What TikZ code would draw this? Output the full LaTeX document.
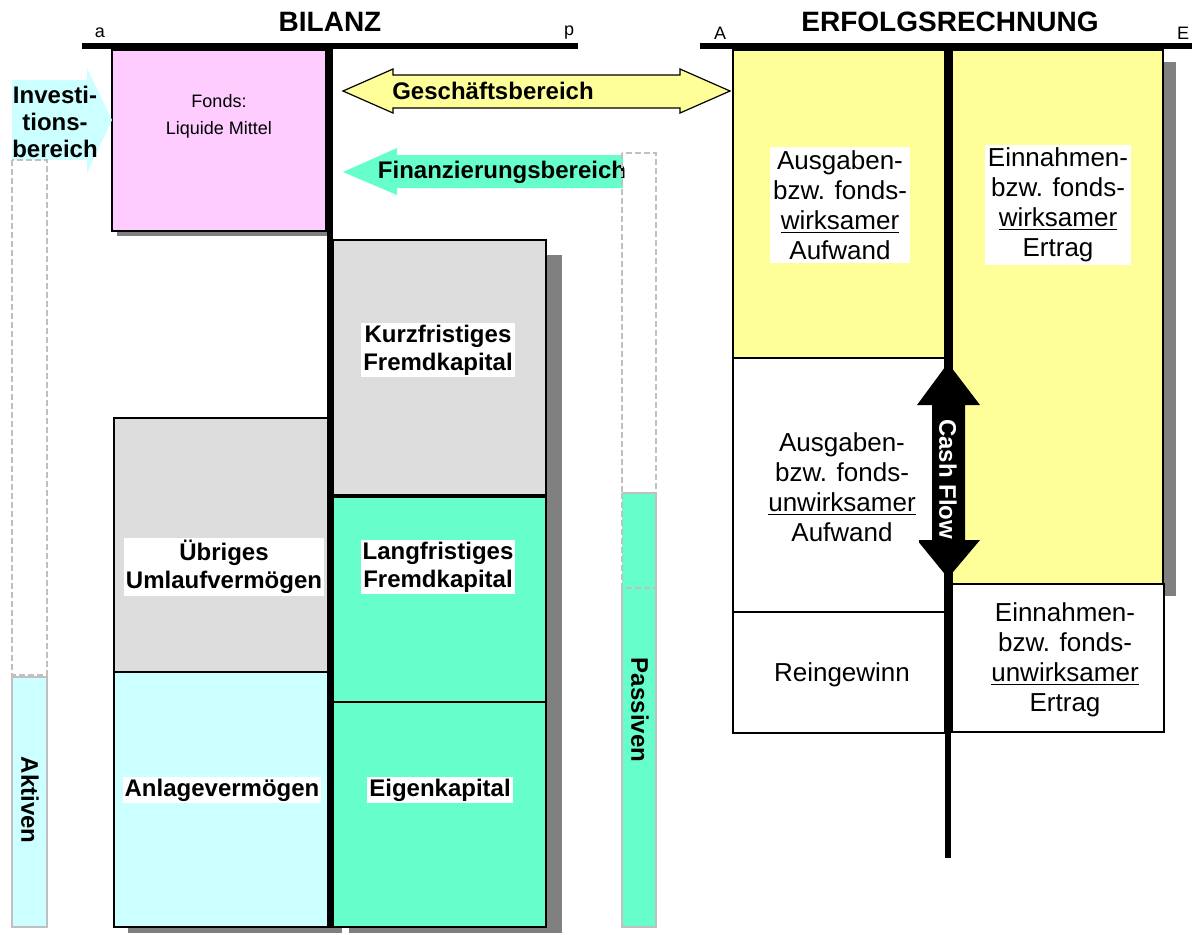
\documentclass[tikz,border=0pt]{standalone}
\usepackage{fontspec}
\setmainfont{Liberation Sans}
\usetikzlibrary{calc}
\definecolor{fondsrosa}{HTML}{FFCCFF}
\definecolor{grau}{HTML}{DDDDDD}
\definecolor{tuerkis}{HTML}{66FFCC}
\definecolor{hellblau}{HTML}{CCFFFF}
\definecolor{gelb}{HTML}{FFFF99}
\definecolor{schattengrau}{HTML}{808080}
\definecolor{randgrau}{HTML}{C0C0C0}
\tikzstyle{konto}=[draw=black,line width=0.8pt]
\tikzstyle{balken}=[line width=3.3pt]
\tikzstyle{leer}=[draw=randgrau,line width=1pt,dash pattern=on 3pt off 1.5pt]
\tikzstyle{saeule}=[draw=randgrau,line width=1pt]
\tikzstyle{etikett}=[fill=white,inner sep=1pt,align=center,font=\fontsize{12}{14}\selectfont\bfseries]
\tikzstyle{erfolg}=[fill=white,inner sep=1.5pt,align=center,font=\fontsize{13}{15}\selectfont]
\tikzstyle{titel}=[font=\fontsize{14}{16}\selectfont\bfseries]
\tikzstyle{ecke}=[font=\fontsize{9}{10}\selectfont]
\def\kasten[#1](#2)(#3)% Syntax: [fill] (upper left) (lower right), pixel units
    { \draw[konto,fill=#1] (#2) rectangle (#3); }
\def\schatten(#1)(#2)% Syntax: (upper left) (lower right)
    { \fill[schattengrau] (#1) rectangle (#2); }

\begin{document}
\begin{tikzpicture}[x=0.5pt,y=-0.5pt]
\useasboundingbox (0,0) rectangle (1192,934);
% Bilanz
\schatten(117,55)(331,236)
\schatten(128,432)(342,933)
\schatten(349,255)(562,933)
\kasten[fondsrosa](112,50)(326,231)
\kasten[grau](114,418)(328,672)
\kasten[hellblau](114,672)(328,927)
\kasten[grau](333,240)(546,495)
\kasten[tuerkis](333,497)(546,702)
\kasten[tuerkis](333,702)(546,927)
\draw[balken] (82,46) -- (578,46);
\draw[balken] (330,46) -- (330,928);
% Investitions-, Geschaefts- und Finanzierungsbereich
\fill[hellblau] (12,80) -- (87,80) -- (87,68) -- (112,120) -- (87,173) -- (87,160) -- (12,160) -- cycle;
\draw[fill=gelb,line width=0.6pt] (343,91) -- (393,69) -- (393,75) -- (680,75) -- (680,69) -- (730,91)
    -- (680,113) -- (680,108) -- (393,108) -- (393,113) -- cycle;
\fill[tuerkis] (343,172) -- (397,148) -- (397,155) -- (623,155) -- (623,188) -- (397,188) -- (397,195) -- cycle;
% Aktiven / Passiven
\draw[leer] (12,160) rectangle (47,675);
\draw[saeule,fill=hellblau] (12,677) rectangle (47,927);
\node[etikett,fill=none] (finanz) at (502,172) {Finanzierungsbereich};
\draw[leer] (622,153) rectangle (656,493);
\fill[tuerkis] (622,493) rectangle (656,927);
\draw[saeule] (622,493) -- (656,493) -- (656,927) -- (622,927) -- (622,588);
\draw[leer] (622,493) -- (622,588) -- (656,588);
% Erfolgsrechnung
\schatten(965,62)(1176,596)
\kasten[gelb](733,50)(945,358)
\kasten[gelb](952,50)(1163,584)
\kasten[white](733,358)(945,612)
\kasten[white](733,612)(945,733)
\kasten[white](952,584)(1164,732)
\draw[balken] (700,46) -- (1192,46);
\draw[balken] (948,46) -- (948,858);
\fill[black] (948,363) -- (980,405) -- (965,405) -- (965,540) -- (980,540) -- (948,578)
    -- (917,540) -- (932,540) -- (932,405) -- (917,405) -- cycle;
% Beschriftungen
\node[titel] (bilanz) at (330,22) {BILANZ};
\node[titel] (erfolg) at (950,22) {ERFOLGSRECHNUNG};
\node[ecke] (a) at (100,33) {a};
\node[ecke] (p) at (569,33) {p};
\node[ecke] (A) at (720,33) {A};
\node[ecke] (E) at (1183,33) {E};
\node[etikett,fill=none,font=\fontsize{12}{13.5}\selectfont\bfseries] (invest) at (55,122) {Investi-\\tions-\\bereich};
\node[etikett,fill=none] (gesch) at (493,91) {Geschäftsbereich};
\node[align=center,font=\fontsize{9}{13.5}\selectfont] (fonds) at (219,116) {Fonds:\\Liquide Mittel};
\node[etikett] (kurz) at (438,350) {Kurzfristiges\\Fremdkapital};
\node[etikett] (lang) at (438,567) {Langfristiges\\Fremdkapital};
\node[etikett] (eigen) at (440,790) {Eigenkapital};
\node[etikett] (uebrig) at (224,567) {Übriges\\Umlaufvermögen};
\node[etikett] (anlage) at (222,790) {Anlagevermögen};
\node[etikett,fill=none,rotate=-90] (aktiv) at (30,800) {Aktiven};
\node[etikett,fill=none,rotate=-90] (passiv) at (640,710) {Passiven};
\node[erfolg] (ausw) at (840,205) {Ausgaben-\\bzw. fonds-\\\underline{wirksamer}\\Aufwand};
\node[erfolg] (einw) at (1058,205) {Einnahmen-\\bzw. fonds-\\\underline{wirksamer}\\Ertrag};
\node[erfolg] (ausu) at (842,487) {Ausgaben-\\bzw. fonds-\\\underline{unwirksamer}\\Aufwand};
\node[erfolg] (rein) at (842,675) {Reingewinn};
\node[erfolg] (einu) at (1065,660) {Einnahmen-\\bzw. fonds-\\\underline{unwirksamer}\\Ertrag};
\node[etikett,fill=none,text=white,rotate=-90] (cash) at (948,479) {Cash Flow};
\end{tikzpicture}
\end{document}
